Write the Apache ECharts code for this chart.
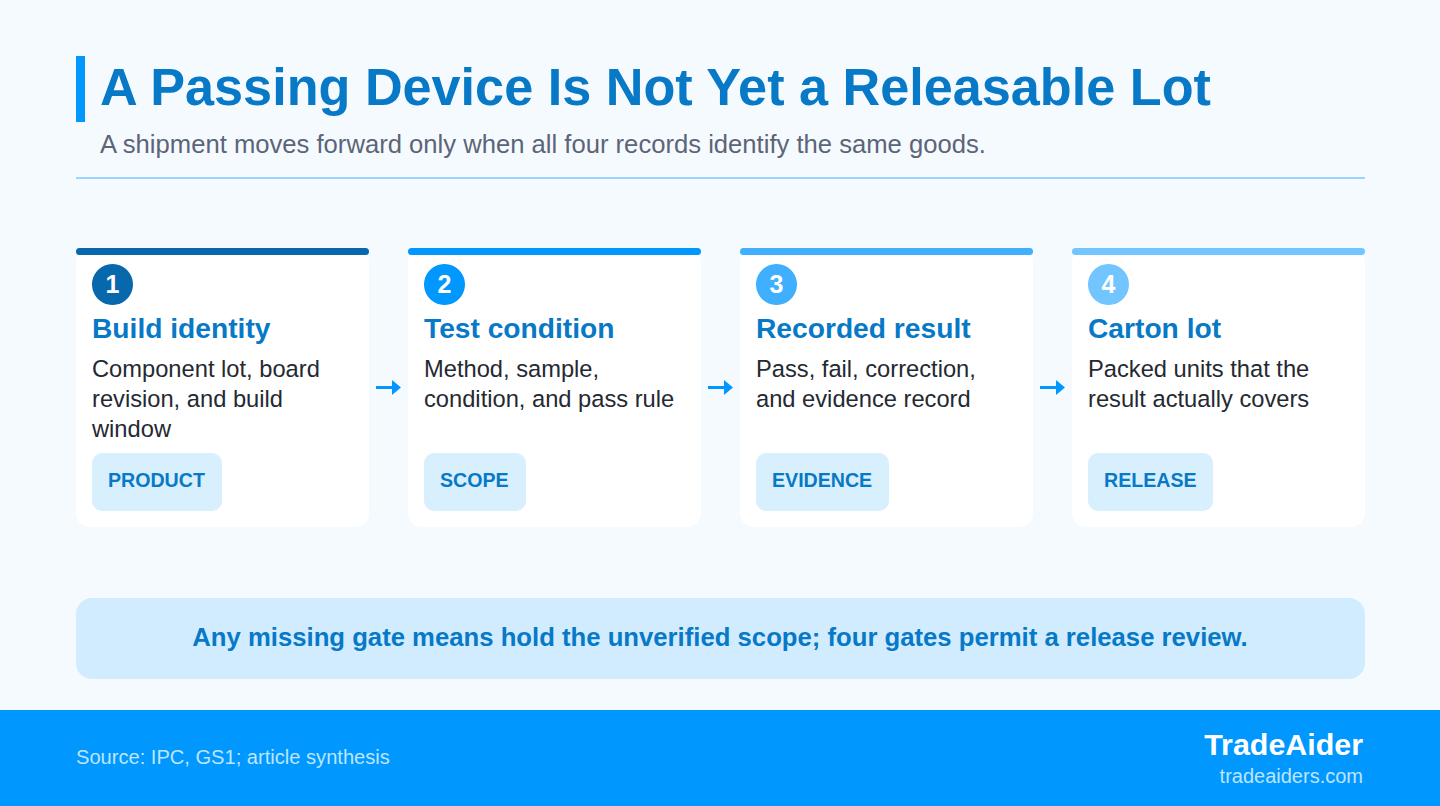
<!DOCTYPE html>
<html>
<head>
<meta charset="utf-8">
<style>html,body{margin:0;padding:0;background:#f5faff}#main{width:1440px;height:806px}</style>
<script src="https://cdn.jsdelivr.net/npm/echarts@6/dist/echarts.min.js"></script>
</head>
<body>
<div id="main"></div>
<script>
var FONT = '"Liberation Sans", Arial, sans-serif';
var titleText = 'A Passing Device Is Not Yet a Releasable Lot';
var subtitleText = 'A shipment moves forward only when all four records identify the same goods.';
var stepNames = ['Build identity', 'Test condition', 'Recorded result', 'Carton lot'];
var stepBodies = [
  ['Component lot, board', 'revision, and build', 'window'],
  ['Method, sample,', 'condition, and pass rule'],
  ['Pass, fail, correction,', 'and evidence record'],
  ['Packed units that the', 'result actually covers']
];
var stepTags = ['PRODUCT', 'SCOPE', 'EVIDENCE', 'RELEASE'];
var tagWidths = [130, 102, 133, 125];
var stepColors = ['#0868ac', '#0098ff', '#40afff', '#73c5ff'];
var noteText = 'Any missing gate means hold the unverified scope; four gates permit a release review.';
var sourceText = 'Source: IPC, GS1; article synthesis';
var brandName = 'TradeAider';
var brandSite = 'tradeaiders.com';

var chart = echarts.init(document.getElementById('main'), null, { renderer: 'svg' });
var els = [];

function rect(x, y, w, h, r, fill) {
  els.push({ type: 'rect', shape: { x: x, y: y, width: w, height: h, r: r }, style: { fill: fill } });
}
function label(x, y, text, size, weight, fill, align) {
  els.push({
    type: 'text', x: x, y: y,
    style: { text: text, font: weight + ' ' + size + 'px ' + FONT, fill: fill, textAlign: align || 'left', textVerticalAlign: 'middle' }
  });
}

// header
rect(0, 0, 1440, 806, 0, '#f5faff');
rect(76, 56, 9, 66, 0, '#0098ff');
label(100, 87, titleText, 52.2, 'bold', '#0779c6');
label(100, 144, subtitleText, 25.63, 'normal', '#5b6577');
rect(76, 177, 1289, 2, 0, '#99d6ff');

// cards
stepNames.forEach(function (name, i) {
  var x = 76 + i * 332;
  rect(x, 248, 293, 279, 14, '#ffffff');
  rect(x, 248, 293, 7, 3.5, stepColors[i]);
  els.push({ type: 'circle', shape: { cx: x + 36.5, cy: 284.5, r: 20.5 }, style: { fill: stepColors[i] } });
  els.push({
    type: 'text', x: x + 36.5, y: 284,
    style: { text: String(i + 1), font: 'bold 25px ' + FONT, fill: '#ffffff', textAlign: 'center', textVerticalAlign: 'middle' }
  });
  label(x + 16, 328, name, 28.2, 'bold', '#0779c6');
  stepBodies[i].forEach(function (line, j) {
    label(x + 16, 369 + j * 30, line, 23.7, 'normal', '#252932');
  });
  rect(x + 16, 453, tagWidths[i], 58, 10, '#d8effe');
  label(x + 32, 480, stepTags[i], 19.6, 'bold', '#0779c6');
  // arrow to next card
  if (i < 3) {
    rect(x + 300, 386, 16, 3, 0, '#0098ff');
    els.push({
      type: 'polygon',
      shape: { points: [[x + 316, 380], [x + 325, 387.5], [x + 316, 395]] },
      style: { fill: '#0098ff' }
    });
  }
});

// bottom note
rect(76, 598, 1289, 81, 16, '#d1ecff');
els.push({
  type: 'text', x: 720, y: 637,
  style: { text: noteText, font: 'bold 25.7px ' + FONT, fill: '#0779c6', textAlign: 'center', textVerticalAlign: 'middle' }
});

// footer
rect(0, 710, 1440, 96, 0, '#0098ff');
label(76, 757, sourceText, 20.1, 'normal', '#bde5ff');
label(1363, 744, brandName, 30.4, 'bold', '#ffffff', 'right');
label(1363, 776, brandSite, 20, 'normal', '#bde5ff', 'right');

chart.setOption({
  animation: false,
  graphic: { elements: els }
});
</script>
</body>
</html>
